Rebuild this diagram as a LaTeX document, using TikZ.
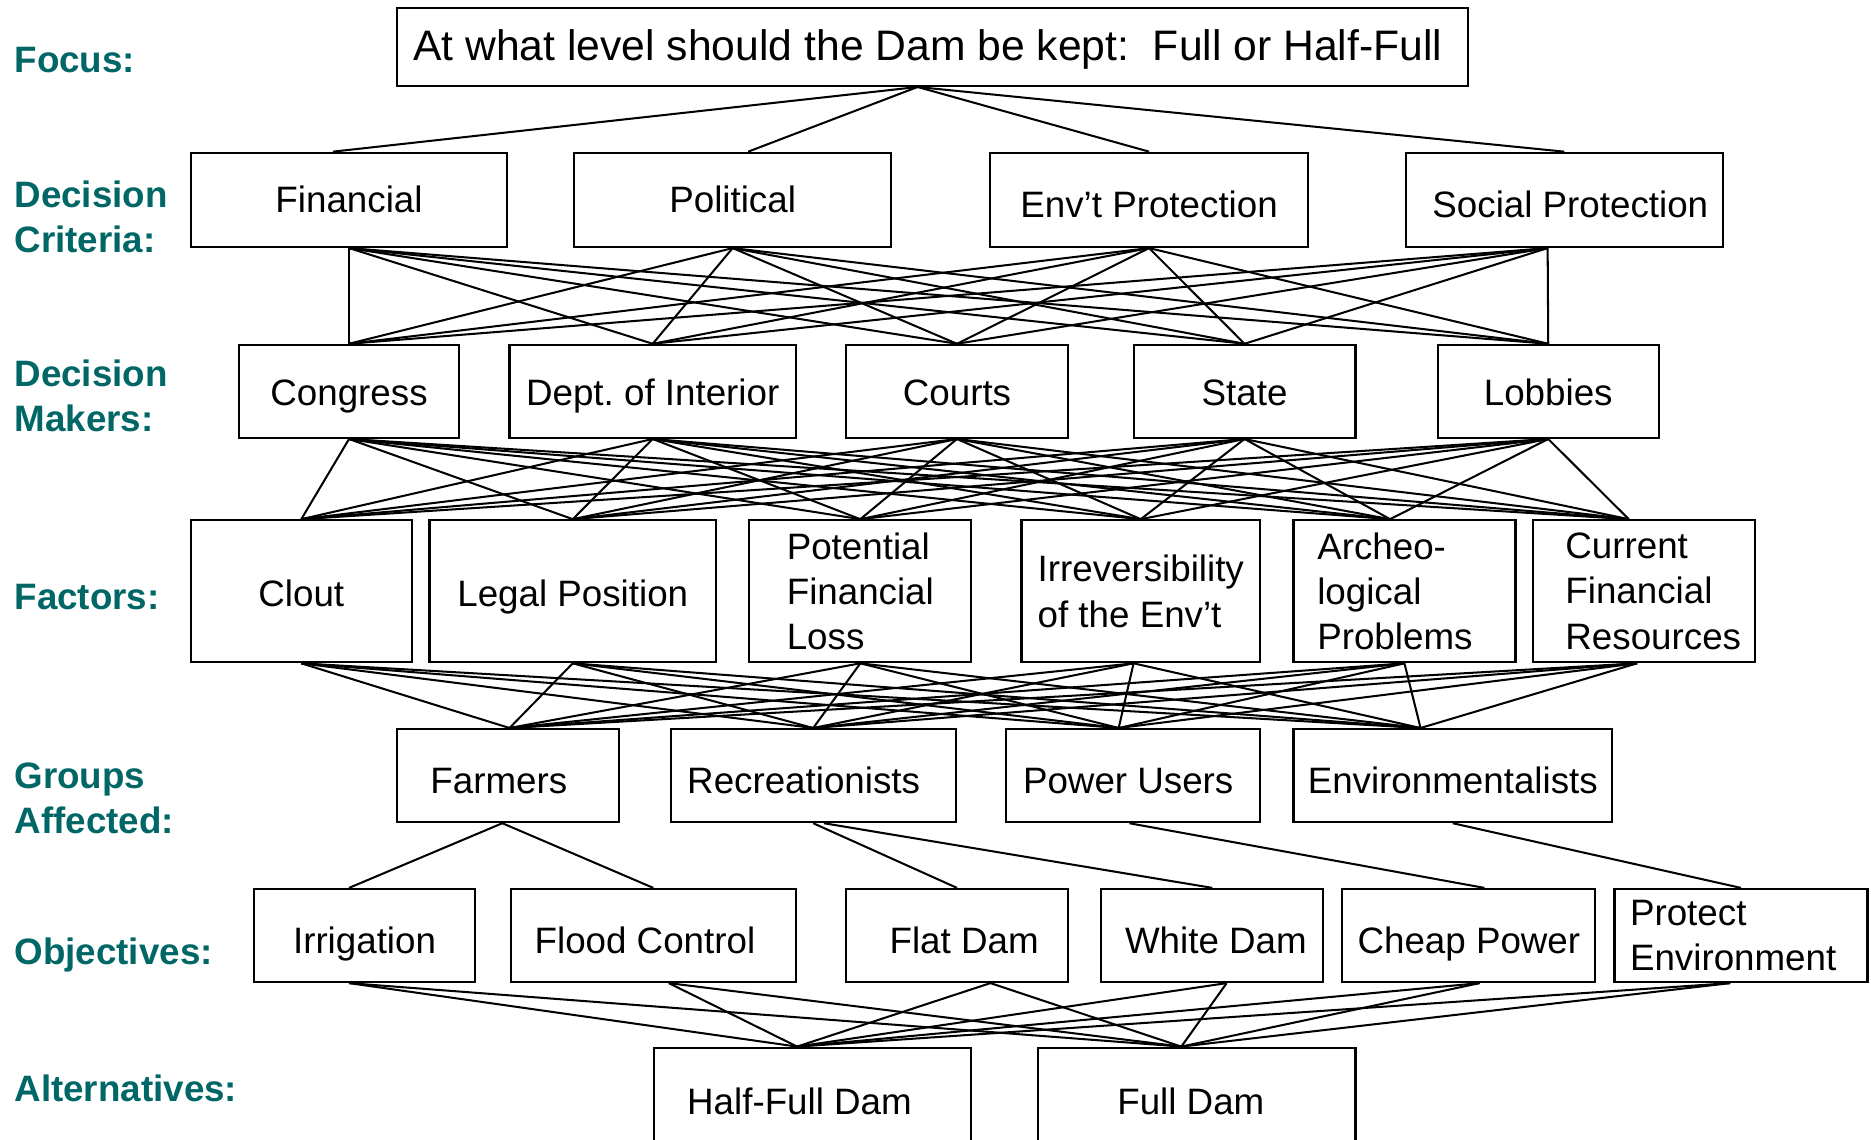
\documentclass[tikz,border=0pt]{standalone}
\usepackage{fontspec}
\setmainfont{Liberation Sans}
\frenchspacing
\definecolor{lblcol}{RGB}{0,102,102}
\begin{document}
\begin{tikzpicture}[x=1pt,y=-1pt,
  box/.style={draw, line width=1.8pt, inner sep=0pt, align=left,
              font=\fontsize{30.8}{38}\selectfont},
  one/.style={text height=#1, text depth=0pt},
  one/.default=22pt,
  lbl/.style={anchor=west, align=left, inner sep=0pt, text=lblcol,
              font=\fontsize{30.8}{38}\selectfont\bfseries},
  conn/.style={line width=1.7pt}]
\useasboundingbox (0,0) rectangle (1568,955);
\clip (0,0) rectangle (1568,955);
\fill[white] (0,0) rectangle (1568,955);

% left labels
\node[lbl] (lfocus) at (12,50) {Focus:};
\node[lbl] (lcrit) at (12,182) {Decision\\Criteria:};
\node[lbl] (lmak) at (12,332) {Decision\\Makers:};
\node[lbl] (lfac) at (12,500) {Factors:};
\node[lbl] (lgrp) at (12,669) {Groups\\Affected:};
\node[lbl] (lobj) at (12,800) {Objectives:};
\node[lbl] (lalt) at (12,912) {Alternatives:};

% focus
\node[box, one, minimum width=897pt, minimum height=65pt, font=\fontsize{35.75}{40}\selectfont] (foc) at (781.5,39.5) {At what level should the Dam be kept:\ \ Full or Half-Full\rule{8pt}{0pt}};

% criteria
\node[box, one, minimum width=265pt, minimum height=79pt] (fin) at (292.5,167.5) {Financial};
\node[box, one, minimum width=266pt, minimum height=79pt] (pol) at (614,167.5) {Political};
\node[box, one=30pt, minimum width=266pt, minimum height=79pt] (env) at (963,167.5) {Env’t Protection};
\node[box, one=30pt, minimum width=266pt, minimum height=79pt] (soc) at (1311,167.5) {\hspace*{10pt}Social Protection};

% makers
\node[box, one=24pt, minimum width=185pt, minimum height=78pt] (con) at (292.5,328) {Congress};
\node[box, one=24pt, minimum width=240pt, minimum height=78pt] (dep) at (547,328) {Dept. of Interior};
\node[box, one=24pt, minimum width=186pt, minimum height=78pt] (cou) at (802,328) {Courts};
\node[box, one=24pt, minimum width=186pt, minimum height=78pt] (sta) at (1043,328) {State};
\node[box, one=24pt, minimum width=185pt, minimum height=78pt] (lob) at (1297.5,328) {Lobbies};

% factors
\node[box, one=25pt, minimum width=185pt, minimum height=119pt] (clo) at (252.5,495.5) {Clout};
\node[box, one=25pt, minimum width=240pt, minimum height=119pt] (leg) at (480,495.5) {Legal Position};
\node[box, minimum width=186pt, minimum height=119pt] (pot) at (721,495.5) {Potential\\Financial\\Loss};
\node[box, minimum width=200pt, minimum height=119pt] (irr) at (956,495.5) {Irreversibility\\of the Env’t};
\node[box, minimum width=186pt, minimum height=119pt] (arc) at (1177,495.5) {Archeo-\\logical\\Problems\rule{16pt}{0pt}};
\node[box, minimum width=186pt, minimum height=119pt] (cur) at (1378,495.5) {\hspace*{15pt}Current\\\hspace*{15pt}Financial\\\hspace*{15pt}Resources};

% groups
\node[box, one=30pt, minimum width=186pt, minimum height=78pt] (far) at (426,650) {Farmers\rule{16pt}{0pt}};
\node[box, one=30pt, minimum width=239pt, minimum height=78pt] (rec) at (681.5,650) {Recreationists\rule{16pt}{0pt}};
\node[box, one=30pt, minimum width=213pt, minimum height=78pt] (pow) at (949.5,650) {Power Users\rule{8pt}{0pt}};
\node[box, one=30pt, minimum width=267pt, minimum height=78pt] (envi) at (1217.5,650) {Environmentalists};

% objectives
\node[box, one=30pt, minimum width=185pt, minimum height=78pt] (irri) at (305.5,784) {Irrigation};
\node[box, one=30pt, minimum width=239pt, minimum height=78pt] (flo) at (547.5,784) {Flood Control\rule{14pt}{0pt}};
\node[box, one=30pt, minimum width=186pt, minimum height=78pt] (fla) at (802,784) {\hspace*{12pt}Flat Dam};
\node[box, one=30pt, minimum width=186pt, minimum height=78pt] (whi) at (1016,784) {\hspace*{6pt}White Dam};
\node[box, one=30pt, minimum width=212pt, minimum height=78pt] (che) at (1231,784) {Cheap Power};
\node[box, minimum width=212pt, minimum height=78pt] (pro) at (1459,784) {Protect\\Environment\rule{13pt}{0pt}};

% alternatives
\node[box, one, minimum width=266pt, minimum height=90pt] (half) at (681,923) {Half-Full Dam\rule{22pt}{0pt}};
\node[box, one, minimum width=266pt, minimum height=90pt] (full) at (1003,923) {Full Dam\rule{10pt}{0pt}};

% focus -> criteria
\foreach \b/\db in {fin/-13.5,pol/13,env/0,soc/0}
  \draw[conn] ([xshift=-12.5pt]foc.south) -- ([xshift=\db pt]\b.north);

% criteria -> makers
\foreach \a/\da in {fin/0,pol/0,env/0,soc/-14}
  \foreach \b/\db in {con/0,dep/0,cou/0,sta/0,lob/0}
    \draw[conn] ([xshift=\da pt]\a.south) -- ([xshift=\db pt]\b.north);

% makers -> factors
\foreach \a/\da in {con/0,dep/0,cou/0,sta/0,lob/0}
  \foreach \b/\db in {clo/0,leg/0,pot/0,irr/0,arc/-12,cur/-13}
    \draw[conn] ([xshift=\da pt]\a.south) -- ([xshift=\db pt]\b.north);

% factors -> groups
\foreach \a/\da in {clo/0,leg/0,pot/0,irr/-6,arc/0,cur/-6}
  \foreach \b/\db in {far/1,rec/0,pow/-12,envi/-27}
    \draw[conn] ([xshift=\da pt]\a.south) -- ([xshift=\db pt]\b.north);

% groups -> objectives
\draw[conn] ([xshift=-5pt]far.south) -- ([xshift=-13pt]irri.north);
\draw[conn] ([xshift=-5pt]far.south) -- (flo.north);
\draw[conn] (rec.south) -- (fla.north);
\draw[conn] ([xshift=9pt]rec.south) -- (whi.north);
\draw[conn] ([xshift=-3pt]pow.south) -- ([xshift=13pt]che.north);
\draw[conn] (envi.south) -- (pro.north);

% objectives -> alternatives
\foreach \a/\da in {irri/-13,flo/13,fla/28,whi/12,che/9,pro/-9}
  \foreach \b/\db in {half/-13,full/-13}
    \draw[conn] ([xshift=\da pt]\a.south) -- ([xshift=\db pt]\b.north);
\end{tikzpicture}
\end{document}
